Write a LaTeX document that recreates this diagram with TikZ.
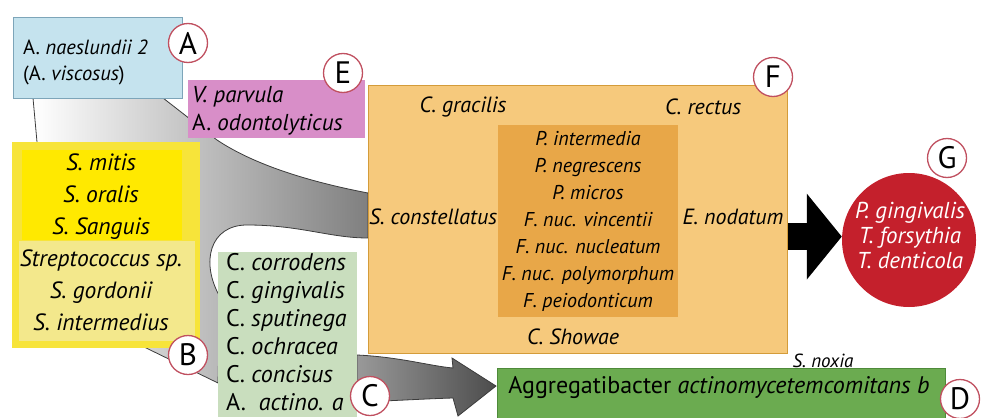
\documentclass[tikz,border=0pt]{standalone}
\usepackage{fontspec}
\setmainfont{PT Sans}
\usepackage{xcolor}
\usepackage{tikz}
\usetikzlibrary{positioning,calc,arrows.meta}
\definecolor{ablue}{RGB}{197,227,238}
\definecolor{abluel}{RGB}{125,165,185}
\definecolor{epink}{RGB}{216,142,200}
\definecolor{forange}{RGB}{246,201,124}
\definecolor{forangel}{RGB}{212,156,58}
\definecolor{fcore}{RGB}{232,167,72}
\definecolor{byellow}{RGB}{247,228,58}
\definecolor{bbright}{RGB}{255,233,0}
\definecolor{bpale}{RGB}{243,232,140}
\definecolor{cgreen}{RGB}{201,222,190}
\definecolor{dgreen}{RGB}{107,171,80}
\definecolor{dgreenl}{RGB}{78,138,58}
\definecolor{gred}{RGB}{196,32,44}
\definecolor{ringred}{RGB}{192,80,96}
\definecolor{edgegray}{RGB}{60,60,60}
\tikzset{
  box/.style={rectangle, inner sep=0pt, anchor=north west},
  lbl/.style={inner sep=0pt, font=\fontsize{22}{24}\selectfont},
  sp/.style={inner sep=0pt, font=\fontsize{22}{24}\selectfont\itshape},
  tag/.style={circle, draw=ringred, line width=1.3pt, fill=white, minimum size=39pt, inner sep=0pt, font=\fontsize{31}{31}\selectfont},
  bigarrow/.style={line width=27pt, -{Triangle[length=35pt,width=84pt]}},
}
\begin{document}
\begin{tikzpicture}[x=1pt,y=-1pt]
  \useasboundingbox (0,0) rectangle (981,417);
  % grey flow towards complex F
  \draw[draw=edgegray, line width=0.8pt, left color=white, right color=black!50]
    (33,98) -- (37,142) -- (140,345) -- (218,383) -- (220,297)
    .. controls (200,262) and (210,225) .. (247,225)
    .. controls (300,225) and (330,238) .. (368,238) -- (368,193)
    .. controls (300,180) and (250,162) .. (217,140) -- (163,98) -- cycle;
  % dark flow towards D
  \draw[draw=edgegray, line width=0.8pt, left color=black!40, right color=black!70]
    (357,355) .. controls (400,357) and (430,366) .. (453,368) -- (452,358)
    -- (496,386) -- (458,416) -- (453,398)
    .. controls (420,399) and (390,401) .. (357,402) -- cycle;
  % boxes
  \node[box, fill=ablue, draw=abluel, line width=0.8pt, minimum width=169pt, minimum height=81pt] (A) at (13,17) {};
  \node[box, fill=epink, minimum width=177pt, minimum height=58pt] (E) at (188,80) {};
  \node[box, fill=forange, draw=forangel, line width=1.2pt, minimum width=419pt, minimum height=268pt] (F) at (368,85) {};
  \node[box, fill=fcore, minimum width=180pt, minimum height=192pt] (Fcore) at (498,125) {};
  \node[box, fill=byellow, minimum width=188pt, minimum height=206pt] (B) at (12,142) {};
  \node[box, fill=bbright, minimum width=160pt, minimum height=90pt] (Btop) at (22,150) {};
  \node[box, fill=bpale, minimum width=176pt, minimum height=100pt] (Blow) at (19,241) {};
  \node[box, fill=cgreen, minimum width=139pt, minimum height=165pt] (C) at (218,252) {};
  \node[box, fill=dgreen, draw=dgreenl, line width=0.8pt, minimum width=448pt, minimum height=52pt] (D) at (497,368) {};
  \node[circle, fill=gred, minimum size=134pt, inner sep=0pt] (G) at (909,240) {};
  \draw[bigarrow] ([yshift=-17pt]F.east) -- ([yshift=-17pt]F.east -| G.west);
  % texts
  \node[lbl, font=\fontsize{20.5}{24}\selectfont, anchor=west] (a1) at (23,47) {A. \textit{naeslundii 2}};
  \node[lbl, font=\fontsize{20.5}{24}\selectfont, anchor=west] (a2) at (23,75) {(A. \textit{viscosus})};
  \node[sp, font=\fontsize{23}{24}\selectfont\itshape, anchor=west] (e1) at (192,97) {V. parvula};
  \node[lbl, font=\fontsize{23}{24}\selectfont, anchor=west] (e2) at (192,125) {A. \textit{odontolyticus}};
  \node[sp] (f1) at (463,107) {C. gracilis};
  \node[sp] (f2) at (703,107) {C. rectus};
  \node[sp] (f3) at (433,217) {S. constellatus};
  \node[sp] (f4) at (733,217) {E. nodatum};
  \node[sp] (f5) at (573,337) {C. Showae};
  \node[sp, font=\fontsize{20}{27}\selectfont\itshape, align=center] (fin) at (588,221)
    {P. intermedia\\P. negrescens\\P. micros\\F. nuc. vincentii\\F. nuc. nucleatum\\F. nuc. polymorphum\\F. peiodonticum};
  \node[sp, font=\fontsize{23.5}{32}\selectfont\itshape, align=center] (bin) at (101,242)
    {S. mitis\\S. oralis\\S. Sanguis\\Streptococcus sp.\\S. gordonii\\S. intermedius};
  \node[lbl, font=\fontsize{24}{28}\selectfont, align=left, anchor=west] (cin) at (226,332)
    {C. \textit{corrodens}\\C. \textit{gingivalis}\\C. \textit{sputinega}\\C. \textit{ochracea}\\C. \textit{concisus}\\A. \ \textit{actino. a}};
  \node[lbl, font=\fontsize{24}{26}\selectfont] (din) at (719,388) {Aggregatibacter \textit{actinomycetemcomitans b}};
  \node[sp, font=\fontsize{19}{20}\selectfont\itshape] (noxia) at (823,361) {S. noxia};
  \node[sp, text=white, font=\fontsize{23}{25}\selectfont\itshape, align=center] (gin) at (910,235)
    {P. gingivalis\\T. forsythia\\T. denticola};
  % letters
  \node[tag] (tA) at (188,43) {A};
  \node[tag] (tE) at (343,73) {E};
  \node[tag] (tF) at (773,77) {F};
  \node[tag] (tG) at (947,158) {G};
  \node[tag] (tB) at (188,355) {B};
  \node[tag] (tC) at (370,396) {C};
  \node[tag] (tD) at (960,399) {D};
\end{tikzpicture}
\end{document}
